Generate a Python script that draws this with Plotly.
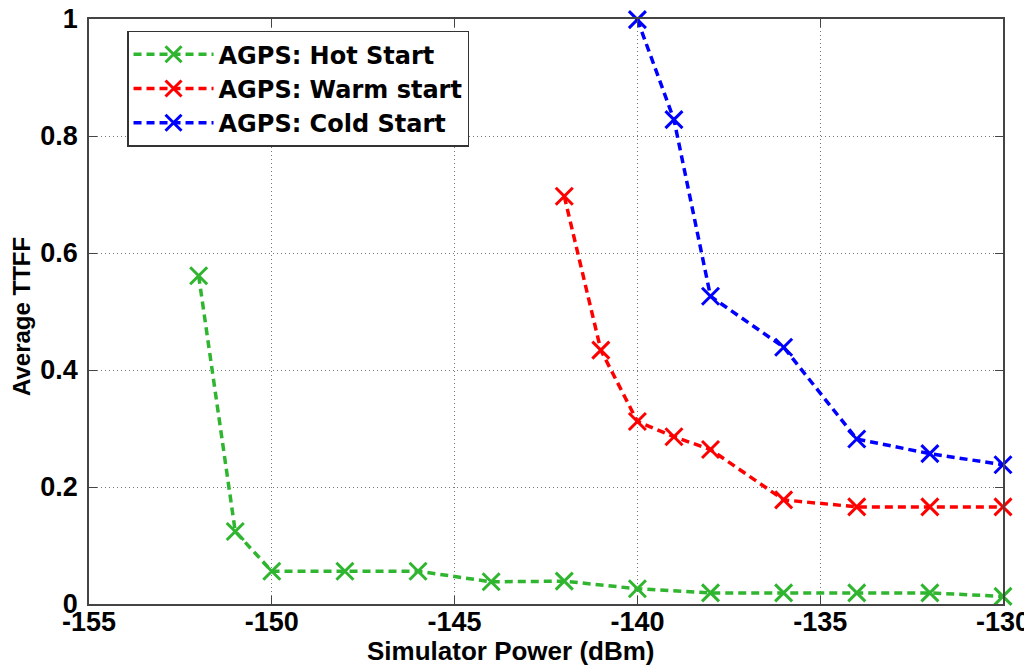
import plotly.graph_objects as go

# ---- data ----
hot_x = [-152, -151, -150, -148, -146, -144, -142, -140, -138, -136, -134, -132, -130]
hot_y = [0.561, 0.124, 0.056, 0.056, 0.056, 0.038, 0.039, 0.026, 0.019, 0.019, 0.019, 0.019, 0.013]

warm_x = [-142, -141, -140, -139, -138, -136, -134, -132, -130]
warm_y = [0.697, 0.434, 0.312, 0.286, 0.264, 0.178, 0.166, 0.166, 0.166]

cold_x = [-140, -139, -138, -136, -134, -132, -130]
cold_y = [0.999, 0.828, 0.526, 0.439, 0.282, 0.257, 0.238]

series_names = ["AGPS: Hot Start", "AGPS: Warm start", "AGPS: Cold Start"]
x_ticks = [-155, -150, -145, -140, -135, -130]
y_ticks = [0, 0.2, 0.4, 0.6, 0.8, 1]
x_title = "Simulator Power (dBm)"
y_title = "Average TTFF"

colors = ["#2fb52f", "#ff0000", "#0000ff"]
FONT = "Liberation Sans, Arial, Helvetica, sans-serif"
LEG_FONT = "DejaVu Sans, Liberation Sans, sans-serif"

fig = go.Figure()
for xs, ys, name, c in zip([hot_x, warm_x, cold_x], [hot_y, warm_y, cold_y], series_names, colors):
    fig.add_trace(go.Scatter(
        x=xs, y=ys, name=name, mode="lines+markers",
        line=dict(color=c, width=3.5, dash="8px,5px"),
        marker=dict(symbol="x-thin", size=17, color=c, line=dict(color=c, width=3)),
        cliponaxis=False,
    ))

axis_common = dict(
    showline=True, linecolor="#444444", linewidth=1.5, mirror="ticks",
    ticks="inside", ticklen=8, tickcolor="#444444", tickwidth=1,
    showgrid=True, gridcolor="#777777", griddash="1px,3px", gridwidth=1,
    zeroline=False, ticklabeloverflow="allow",
    tickfont=dict(family=FONT, size=27, color="black", weight="bold"),
)

fig.update_xaxes(
    range=[-155, -130], tickvals=x_ticks, ticktext=[str(v) for v in x_ticks],
    ticklabelstandoff=-7,
    **axis_common,
)
fig.update_yaxes(
    range=[0, 1], tickvals=y_ticks, ticktext=["0", "0.2", "0.4", "0.6", "0.8", "1"],
    ticklabelstandoff=4,
    **axis_common,
)

# page body has an 8px margin; compensate so plot area sits at x 89..1003, y 19..604
fig.update_layout(
    width=1024, height=658,
    margin=dict(l=81, r=29, t=11, b=62, autoexpand=False),
    paper_bgcolor="white", plot_bgcolor="white",
    showlegend=True,
    legend=dict(
        x=0.0416, y=0.98, xanchor="left", yanchor="top",
        bgcolor="white", bordercolor="#333333", borderwidth=1.5,
        font=dict(family=LEG_FONT, size=24, color="black", weight="bold"),
        itemwidth=80, tracegroupgap=0,
    ),
    annotations=[
        dict(text=x_title, xref="paper", yref="paper", x=0.4617, y=-0.080,
             xanchor="center", yanchor="middle", showarrow=False,
             font=dict(family=FONT, size=26, color="black", weight="bold")),
        dict(text=y_title, xref="paper", yref="paper", x=-0.0733, y=0.4906,
             xanchor="center", yanchor="middle", showarrow=False, textangle=-90,
             font=dict(family=FONT, size=24, color="black", weight="bold")),
    ],
)

fig.write_html("out.html")
